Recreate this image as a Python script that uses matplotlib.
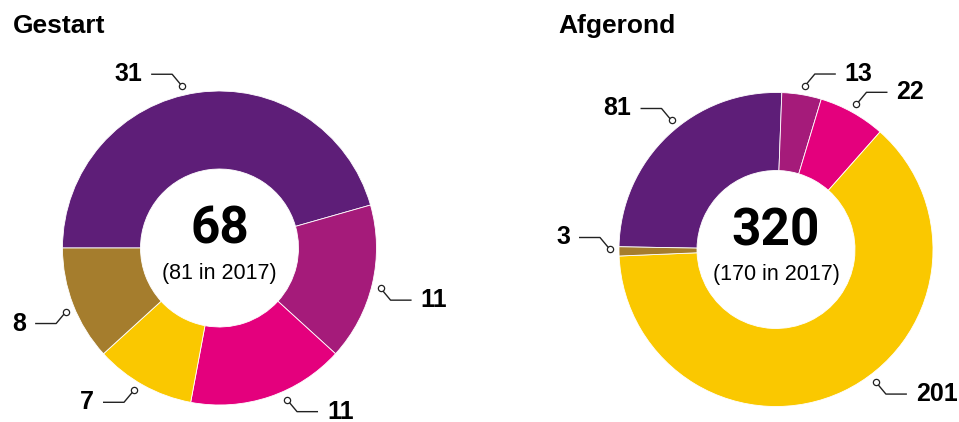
import numpy as np
import matplotlib
matplotlib.use('Agg')
import matplotlib.pyplot as plt

W, H = 959, 422

# categories in clockwise order, same colours in both rings
colors = ['#5E1E78', '#A51B7A', '#E4007D', '#FAC800', '#A57D2D']

gestart = [31, 11, 11, 7, 8]
afgerond = [81, 13, 22, 201, 3]

totals = [68, 320]
prev_year = ['(81 in 2017)', '(170 in 2017)']
titles = ['Gestart', 'Afgerond']

# layout (pixels, y from top)
centers = [(219.5, 248), (776, 249.5)]
start_angles = [180, 179]
title_x = [13, 558]
label_angles = [[103, -14, -66, -121, -157.5],
                [129, 80, 61, -53, 180]]

R = 157
RING = 78
LEAD_R = 166


def py(y):
    return H - y


fig = plt.figure(figsize=(W / 100, H / 100), dpi=100)
ax = fig.add_axes([0, 0, 1, 1])

for k, vals in enumerate([gestart, afgerond]):
    cx, cy = centers[k]
    ax.pie(vals, colors=colors, startangle=start_angles[k], counterclock=False,
           center=(cx, py(cy)), radius=R,
           wedgeprops=dict(width=RING, edgecolor='white', linewidth=0.6))

    ax.text(title_x[k], py(33), titles[k], fontsize=19, fontweight='bold',
            family='Liberation Sans', ha='left', va='baseline')

    ax.text(cx, py(cy - 18), str(totals[k]), fontsize=37, fontweight='bold',
            family='Roboto', ha='center', va='center')
    ax.text(cx, py(cy + 25), prev_year[k], fontsize=15.5, family='Liberation Sans',
            ha='center', va='center')

    # leader lines: small open circle on the ring, short diagonal, horizontal run
    for v, ang in zip(vals, label_angles[k]):
        a = np.deg2rad(ang)
        x0 = cx + LEAD_R * np.cos(a)
        y0 = cy - LEAD_R * np.sin(a)
        sx = 1 if np.cos(a) > 0 else -1
        sy = -1 if np.sin(a) > -0.1 else 1
        x1, y1 = x0 + sx * 10, y0 + sy * 12
        x2 = x1 + sx * 21
        ax.plot([x0, x1, x2], [py(y0), py(y1), py(y1)], color='#222222', lw=1,
                solid_capstyle='butt', zorder=3)
        ax.plot([x0], [py(y0)], marker='o', ms=4.5, mfc='white', mec='#222222',
                mew=0.9, zorder=4)
        ax.text(x2 + sx * 9, py(y1), str(v), fontsize=18, fontweight='bold',
                family='Liberation Sans', ha='left' if sx > 0 else 'right',
                va='center')

ax.set_xlim(0, W)
ax.set_ylim(0, H)
ax.set_aspect('equal')
ax.axis('off')

fig.savefig('out.png', dpi=100, facecolor='white')
